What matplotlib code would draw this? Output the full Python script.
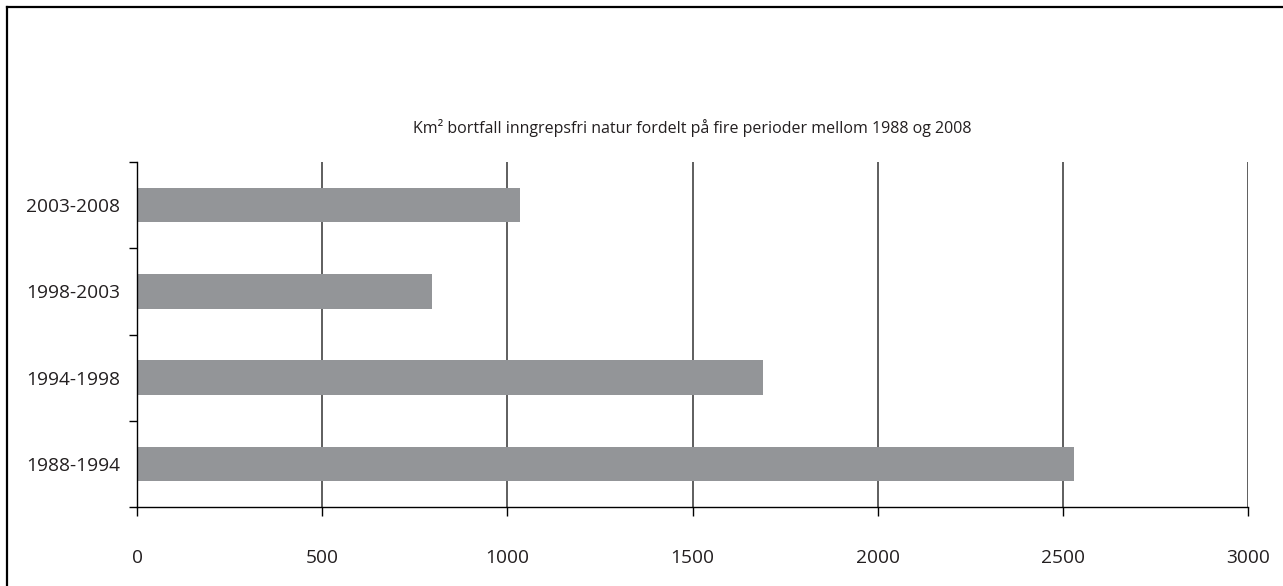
import matplotlib
matplotlib.use("Agg")
import matplotlib.pyplot as plt
from matplotlib.lines import Line2D

plt.rcParams['font.family'] = ['Open Sans', 'DejaVu Sans']

# data
perioder = ["1988-1994", "1994-1998", "1998-2003", "2003-2008"]
km2 = [2530, 1690, 795, 1035]
xticks = [0, 500, 1000, 1500, 2000, 2500, 3000]

fig = plt.figure(figsize=(12.83, 5.86), dpi=100)
ax = fig.add_axes([0.1068, 0.1348, 0.973 - 0.1068, 0.7235 - 0.1348])

ax.barh(range(len(perioder)), km2, height=0.4, color="#939598", zorder=3)

ax.set_xlim(0, 3000)
ax.set_ylim(-0.5, len(perioder) - 0.5)
ax.set_xticks(xticks)
ax.set_xticklabels([str(t) for t in xticks])
ax.set_yticks(range(len(perioder)))
ax.set_yticklabels(perioder)

# ticks between categories on the y axis
ax.set_yticks([i - 0.5 for i in range(len(perioder) + 1)], minor=True)
ax.tick_params(axis='y', which='major', length=0, pad=12, labelsize=13.8, colors='#231f20')
ax.tick_params(axis='y', which='minor', length=5.8, width=1, direction='out', color='black')
ax.tick_params(axis='x', length=6.5, width=1, direction='out', pad=23.5, labelsize=13.8, colors='#231f20')
ax.tick_params(axis='x', color='black')

ax.xaxis.grid(True, color='#333333', linewidth=1.1, zorder=1)
ax.set_axisbelow(True)

for s in ['top', 'right']:
    ax.spines[s].set_visible(False)
for s in ['left', 'bottom']:
    ax.spines[s].set_color('black')
    ax.spines[s].set_linewidth(1)
    ax.spines[s].set_zorder(4)

ax.set_title("Km² bortfall inngrepsfri natur fordelt på fire perioder mellom 1988 og 2008",
             fontsize=11.5, color='#231f20', pad=21)

# outer frame (left and top edges visible)
fig.add_artist(Line2D([7 / 1283, 7 / 1283], [0, 1 - 7 / 586], transform=fig.transFigure,
                      color='black', linewidth=1.6))
fig.add_artist(Line2D([7 / 1283, 1], [1 - 7 / 586, 1 - 7 / 586], transform=fig.transFigure,
                      color='black', linewidth=1.6))

fig.savefig("out.png", dpi=100)
